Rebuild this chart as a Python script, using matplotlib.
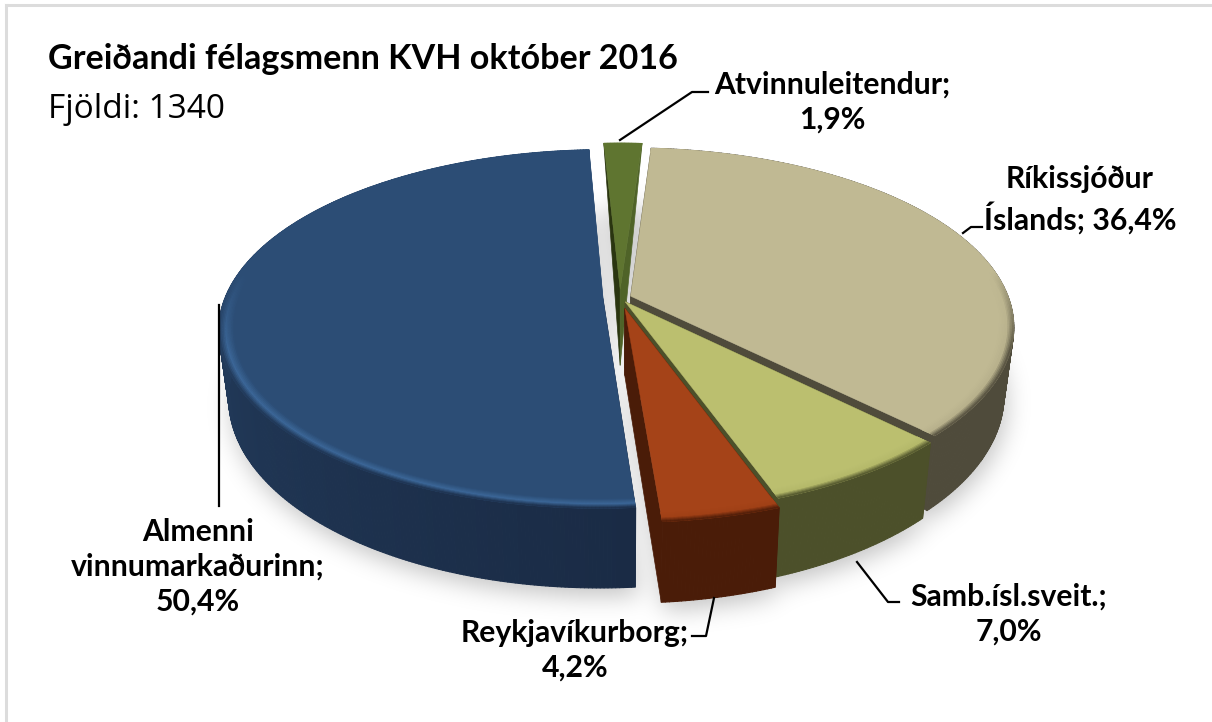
import numpy as np
import matplotlib
matplotlib.use("Agg")
import matplotlib.pyplot as plt
from matplotlib.collections import PolyCollection
from matplotlib.colors import to_rgb
from matplotlib.path import Path

# data
names = ["Atvinnuleitendur", "Ríkissjóður Íslands", "Samb.ísl.sveit.", "Reykjavíkurborg", "Almenni vinnumarkaðurinn"]
values = [1.9, 36.4, 7.0, 4.2, 50.4]

title = "Greiðandi félagsmenn KVH október 2016"
subtitle = "Fjöldi: 1340"

label_lines = ["Atvinnuleitendur;\n1,9%", "Ríkissjóður\nÍslands; 36,4%", "Samb.ísl.sveit.;\n7,0%",
               "Reykjavíkurborg;\n4,2%", "Almenni\nvinnumarkaðurinn;\n50,4%"]

# styles
top_colors = ["#5f7530", "#c0b993", "#bbbf6f", "#a54318", "#2c4d75"]
rim_colors = ["#5f7530", "#b8b18c", "#b5b96a", "#a04016", "#3c6798"]
wall_a = ["#4f6328", "#4f4b3b", "#4c502a", "#4a1c08", "#2a4a70"]
wall_b = ["#4f6328", "#4f4b3b", "#4c502a", "#4a1c08", "#1a2b45"]
cut_left = ["#2a3510", "#4f4b3b", "#4c502a", "#4a1c08", "#1a2b45"]
explode = [0.05, 0.03, 0.025, 0.06, 0.045]

# projection of the tilted disc to pixels
cx, cy = 620, 298
rx, ry = 378, 174
p = 0.17
depth = 66
shrink = 0.975
turn = 0.5


def project(x, y, down=False):
    w = 1 / (1 + p * y)
    px = cx + rx * x * w
    py = cy - ry * y * w
    if down:
        px = cx + (px - cx) * shrink
        py = py + depth * w
    return px, py


def mix(a, b, t):
    a, b = np.array(to_rgb(a)), np.array(to_rgb(b))
    return tuple(a + (b - a) * t)


fig = plt.figure(figsize=(12.12, 7.22), dpi=100)
ax = fig.add_axes([0, 0, 1, 1])
ax.set_xlim(0, 1212)
ax.set_ylim(722, 0)
ax.axis("off")

# frame, only top and left show in the source
ax.plot([6, 6], [722, 5], color="#dcdcdc", lw=2.2, zorder=0)
ax.plot([6, 1212], [5, 5], color="#dcdcdc", lw=2.2, zorder=0)

fractions = np.array(values) / sum(values) * 360
start = -fractions[0] / 2 + turn
edges = start + np.concatenate([[0], np.cumsum(fractions)])

# soft shadow, blurred mask of the base of the slices
gx, gy = np.meshgrid(np.arange(0, 1212, 2), np.arange(0, 722, 2))
grid = np.column_stack([gx.ravel(), gy.ravel()])
mask = np.zeros(gx.shape)
for i in range(len(values)):
    th = np.radians(np.linspace(edges[i], edges[i + 1], 80))
    mid = np.radians((edges[i] + edges[i + 1]) / 2)
    ex, ey = explode[i] * np.sin(mid), explode[i] * np.cos(mid)
    x = np.concatenate([[ex], ex + np.sin(th)])
    y = np.concatenate([[ey], ey + np.cos(th)])
    bx, by = project(x, y, down=True)
    inside = Path(np.column_stack([bx + 2, by + 7])).contains_points(grid).reshape(gx.shape)
    mask[inside] = 1
kernel = np.exp(-0.5 * (np.arange(-18, 19) / 6.0) ** 2)
kernel /= kernel.sum()
mask = np.apply_along_axis(lambda v: np.convolve(v, kernel, mode="same"), 0, mask)
mask = np.apply_along_axis(lambda v: np.convolve(v, kernel, mode="same"), 1, mask)
shade = np.zeros(mask.shape + (4,))
shade[..., 3] = mask * 0.24
ax.imshow(shade, extent=(0, 1212, 722, 0), aspect="auto", zorder=1, interpolation="bilinear")
ax.set_xlim(0, 1212)
ax.set_ylim(722, 0)

z = 2
for i in range(len(values)):
    th_deg = np.linspace(edges[i], edges[i + 1], max(int(fractions[i]) * 2, 12))
    th = np.radians(th_deg)
    mid = np.radians((edges[i] + edges[i + 1]) / 2)
    ex, ey = explode[i] * np.sin(mid), explode[i] * np.cos(mid)
    x = ex + np.sin(th)
    y = ey + np.cos(th)

    # cut faces
    ax0, ay0 = project(ex, ey)
    ax1, ay1 = project(ex, ey, down=True)
    for k, col in [(0, cut_left[i]), (-1, wall_a[i])]:
        tx, ty = project(x[k], y[k])
        bx, by = project(x[k], y[k], down=True)
        if i == 0:
            # the far slice: its cut faces run down from the back corners
            ax.fill([tx, ax0, ax0], [ty, ay0, ay0 + 76], fc=col, ec=col, lw=0.5, zorder=z)
        else:
            ax.fill([ax0, tx, bx, ax1], [ay0, ty, by, ay1], fc=col, ec=col, lw=0.5, zorder=z)

    # outer wall
    tx, ty = project(x, y)
    bx, by = project(x, y, down=True)
    if i != 0:
        quads, cols = [], []
        for k in range(len(th) - 1):
            quads.append([(tx[k], ty[k]), (tx[k + 1], ty[k + 1]), (bx[k + 1], by[k + 1]), (bx[k], by[k])])
            cols.append(mix(wall_b[i], wall_a[i], (th_deg[k] - edges[i]) / fractions[i]))
        ax.add_collection(PolyCollection(quads, facecolors=cols, edgecolors=cols, lw=0.8, zorder=z + 0.1))

    # top face
    fx = np.concatenate([[ex], x])
    fy = np.concatenate([[ey], y])
    px, py = project(fx, fy)
    ax.fill(px, py, fc=top_colors[i], ec=top_colors[i], lw=0.3, zorder=z + 0.2)

    # rounded rim, only seen towards the front
    steps = 10
    quads, cols = [], []
    for s in range(steps):
        r0 = 0.962 + 0.038 * s / steps
        r1 = 0.962 + 0.038 * (s + 1) / steps
        t = (s + 0.5) / steps
        xa, ya = project(ex + r0 * np.sin(th), ey + r0 * np.cos(th))
        xb, yb = project(ex + r1 * np.sin(th), ey + r1 * np.cos(th))
        for k in range(len(th) - 1):
            f = np.clip((0.15 - np.cos(th[k])) / 0.45, 0, 1)
            wall = mix(wall_b[i], wall_a[i], (th_deg[k] - edges[i]) / fractions[i])
            if t < 0.55:
                c = mix(top_colors[i], rim_colors[i], t / 0.55)
            else:
                c = mix(rim_colors[i], wall, (t - 0.55) / 0.45)
            c = mix(top_colors[i], c, f)
            quads.append([(xa[k], ya[k]), (xa[k + 1], ya[k + 1]), (xb[k + 1], yb[k + 1]), (xb[k], yb[k])])
            cols.append(c)
    ax.add_collection(PolyCollection(quads, facecolors=cols, edgecolors=cols, lw=0.4, zorder=z + 0.3))
    z += 1

# title
ax.text(48, 59, title, fontsize=24.6, fontweight="bold", family="Lato", va="center", ha="left", color="#000000", zorder=20)
ax.text(48, 109, subtitle, fontsize=24, family="Open Sans", va="center", ha="left", color="#000000", zorder=20)

# labels
label_pos = [(832, 102), (1080, 200), (1009, 614), (575, 650), (198, 567)]
for txt, (lx, ly) in zip(label_lines, label_pos):
    ax.text(lx, ly, txt, fontsize=21.7, fontweight="bold", family="Lato", ha="center", va="center",
            linespacing=1.3, color="#000000", zorder=20)

# leader lines
leaders = [
    ([620, 692, 708], [140, 92, 92]),
    ([963, 971, 982], [233, 227, 227]),
    ([857, 888, 899], [562, 602, 602]),
    ([714, 706, 692], [598, 636, 636]),
    ([219, 219], [305, 506]),
]
for lx, ly in leaders:
    ax.plot(lx, ly, color="#000000", lw=1.6, zorder=19)

fig.savefig("out.png", dpi=100)
